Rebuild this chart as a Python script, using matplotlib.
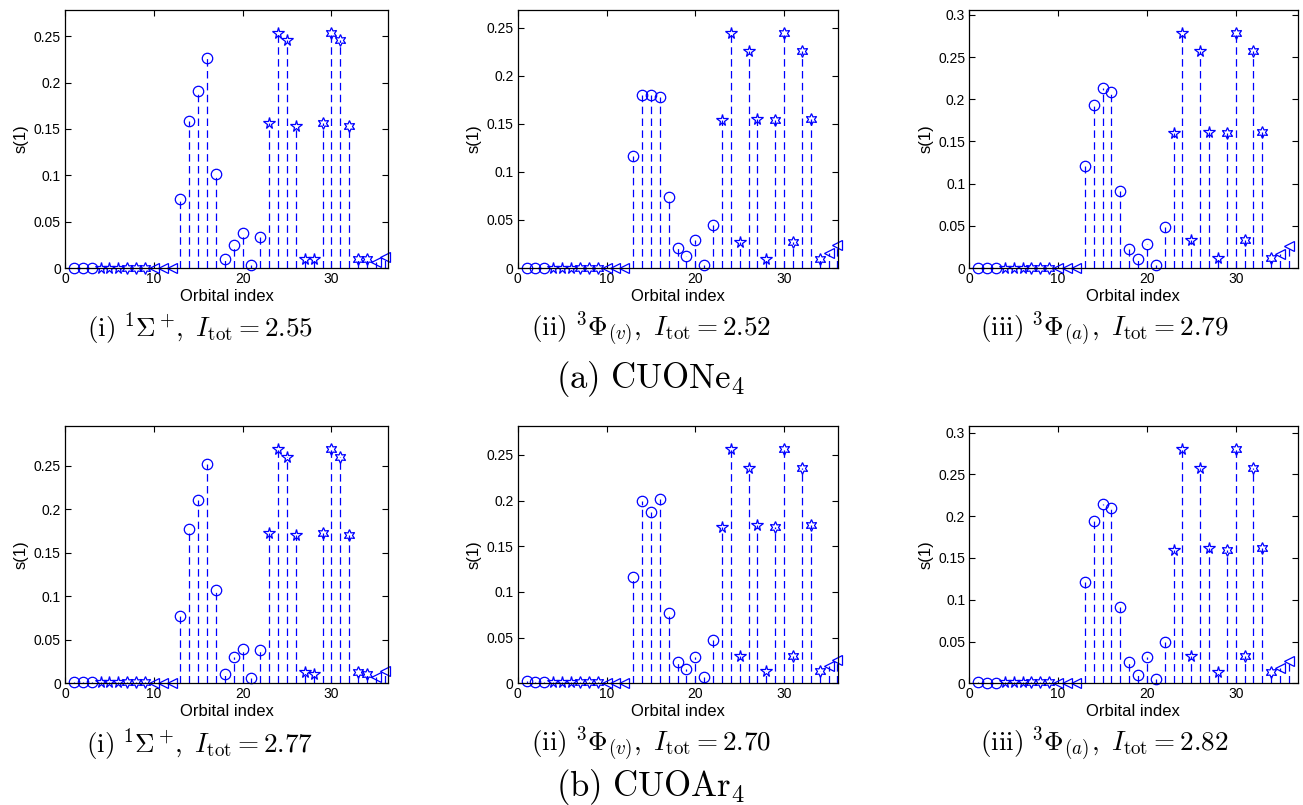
import numpy as np
import matplotlib
matplotlib.use("Agg")
import matplotlib.pyplot as plt
from matplotlib.ticker import MultipleLocator, FuncFormatter

plt.rcParams['font.family'] = ['Liberation Sans', 'DejaVu Sans']
plt.rcParams['mathtext.fontset'] = 'cm'

orbitals = np.arange(1, 37)

# symbol of each orbital: o circle, p pentagram, h hexagram, < triangle
symbols = (['o', 'o', 'o', 'p', 'p', 'p', 'h', 'h', 'h', '<', '<', '<']
           + ['o', 'o', 'o', 'o', 'o', 'o', 'o', 'o', 'o', 'o']
           + ['p', 'p', 'p', 'p', 'p', 'p', 'h', 'h', 'h', 'h', 'h', 'h', '<', '<'])

# single orbital entropies s(1), CUONe4
ne_sigma = [0.0003, 0.0003, 0.0003, 0.0005, 0.0005, 0.0005, 0.0005, 0.0005, 0.0005, 0.0003, 0.0003, 0.0003,
            0.074, 0.159, 0.191, 0.227, 0.101, 0.010, 0.025, 0.038, 0.003, 0.033,
            0.156, 0.253, 0.246, 0.153, 0.010, 0.010, 0.156, 0.253, 0.246, 0.153, 0.010, 0.010, 0.006, 0.012]
ne_phi_v = [0.0003, 0.0003, 0.0003, 0.0005, 0.0005, 0.0005, 0.0005, 0.0005, 0.0005, 0.0003, 0.0003, 0.0003,
            0.116, 0.180, 0.180, 0.178, 0.074, 0.021, 0.013, 0.029, 0.003, 0.045,
            0.154, 0.244, 0.027, 0.226, 0.155, 0.009, 0.154, 0.244, 0.027, 0.226, 0.155, 0.009, 0.016, 0.024]
ne_phi_a = [0.0003, 0.0003, 0.0003, 0.0005, 0.0005, 0.0005, 0.0005, 0.0005, 0.0005, 0.0003, 0.0003, 0.0003,
            0.121, 0.193, 0.213, 0.209, 0.091, 0.023, 0.011, 0.029, 0.004, 0.049,
            0.160, 0.278, 0.033, 0.257, 0.161, 0.012, 0.160, 0.278, 0.033, 0.257, 0.161, 0.012, 0.017, 0.026]

# CUOAr4
ar_sigma = [0.002, 0.001, 0.001, 0.001, 0.001, 0.001, 0.001, 0.001, 0.001, 0.0005, 0.0005, 0.0005,
            0.077, 0.177, 0.211, 0.252, 0.107, 0.011, 0.030, 0.039, 0.006, 0.038,
            0.173, 0.269, 0.260, 0.171, 0.013, 0.011, 0.173, 0.269, 0.260, 0.171, 0.013, 0.011, 0.007, 0.014]
ar_phi_v = [0.003, 0.001, 0.001, 0.001, 0.001, 0.001, 0.001, 0.001, 0.001, 0.0005, 0.0005, 0.0005,
            0.116, 0.199, 0.188, 0.202, 0.077, 0.023, 0.016, 0.029, 0.007, 0.047,
            0.171, 0.256, 0.030, 0.236, 0.173, 0.013, 0.171, 0.256, 0.030, 0.236, 0.173, 0.013, 0.019, 0.026]
ar_phi_a = [0.002, 0.0005, 0.0005, 0.001, 0.001, 0.001, 0.001, 0.001, 0.001, 0.0005, 0.0005, 0.0005,
            0.121, 0.194, 0.215, 0.210, 0.091, 0.025, 0.010, 0.031, 0.005, 0.050,
            0.160, 0.280, 0.033, 0.258, 0.162, 0.013, 0.160, 0.280, 0.033, 0.258, 0.162, 0.013, 0.018, 0.027]

captions = [r'$\mathrm{(i)}\ {}^1\Sigma^+\!,\ I_{\mathrm{tot}} = 2.55$',
            r'$\mathrm{(ii)}\ {}^3\Phi_{(v)},\ I_{\mathrm{tot}} = 2.52$',
            r'$\mathrm{(iii)}\ {}^3\Phi_{(a)},\ I_{\mathrm{tot}} = 2.79$',
            r'$\mathrm{(i)}\ {}^1\Sigma^+\!,\ I_{\mathrm{tot}} = 2.77$',
            r'$\mathrm{(ii)}\ {}^3\Phi_{(v)},\ I_{\mathrm{tot}} = 2.70$',
            r'$\mathrm{(iii)}\ {}^3\Phi_{(a)},\ I_{\mathrm{tot}} = 2.82$']
group_titles = [r'$\mathrm{(a)\ CUONe_4}$', r'$\mathrm{(b)\ CUOAr_4}$']

series = [ne_sigma, ne_phi_v, ne_phi_a, ar_sigma, ar_phi_v, ar_phi_a]

W, H = 1303, 805
fig = plt.figure(figsize=(W / 100, H / 100), dpi=100)

marker_map = {'o': 'o', 'p': '*', 'h': (6, 1, 0), '<': '<'}
marker_size = {'o': 7.5, 'p': 8.5, 'h': 8.5, '<': 7.5}

col_left = [65, 517.7, 969.3]
col_right = [388, 838, 1297.5]
row_top = [10, 426]
row_bot = [268, 683.3]
px_per_unit = 8.88
cap_x = [200, 651, 1104]

for k, vals in enumerate(series):
    r, c = k // 3, k % 3
    l, rt = col_left[c], col_right[c]
    t, b = row_top[r], row_bot[r]
    ax = fig.add_axes([l / W, 1 - b / H, (rt - l) / W, (b - t) / H])
    vals = np.array(vals)

    ax.vlines(orbitals, 0, vals, colors='blue', linewidth=0.9, linestyles=(0, (6, 3.5)))
    syms = np.array(symbols)
    for s in ['o', 'p', 'h', '<']:
        m = syms == s
        ax.plot(orbitals[m], vals[m], linestyle='none', marker=marker_map[s],
                markersize=marker_size[s], markerfacecolor='none',
                markeredgecolor='blue', markeredgewidth=0.9, clip_on=False)

    ax.set_xlim(0, (rt - l) / px_per_unit)
    ax.set_ylim(0, 1.1 * vals.max())
    ax.xaxis.set_major_locator(MultipleLocator(10))
    ax.yaxis.set_major_locator(MultipleLocator(0.05))
    ax.yaxis.set_major_formatter(FuncFormatter(lambda v, p: '%g' % round(v, 4)))
    ax.tick_params(direction='in', top=True, right=True, length=4, width=0.8,
                   labelsize=10, pad=3)
    for sp in ax.spines.values():
        sp.set_linewidth(0.9)

    ax.set_xlabel('Orbital index', fontsize=12)
    ax.xaxis.set_label_coords(0.5, -21 / (b - t))
    ax.set_ylabel('s(1)', fontsize=12)
    ax.yaxis.set_label_coords(-36 / (rt - l), 0.5)

    fig.text(cap_x[c] / W, 1 - (b + 61) / H, captions[k], fontsize=19.5,
             ha='center', va='center')

fig.text(651 / W, 1 - 379 / H, group_titles[0], fontsize=25, ha='center', va='center')
fig.text(651 / W, 1 - 787 / H, group_titles[1], fontsize=25, ha='center', va='center')

fig.savefig('out.png', dpi=100)
